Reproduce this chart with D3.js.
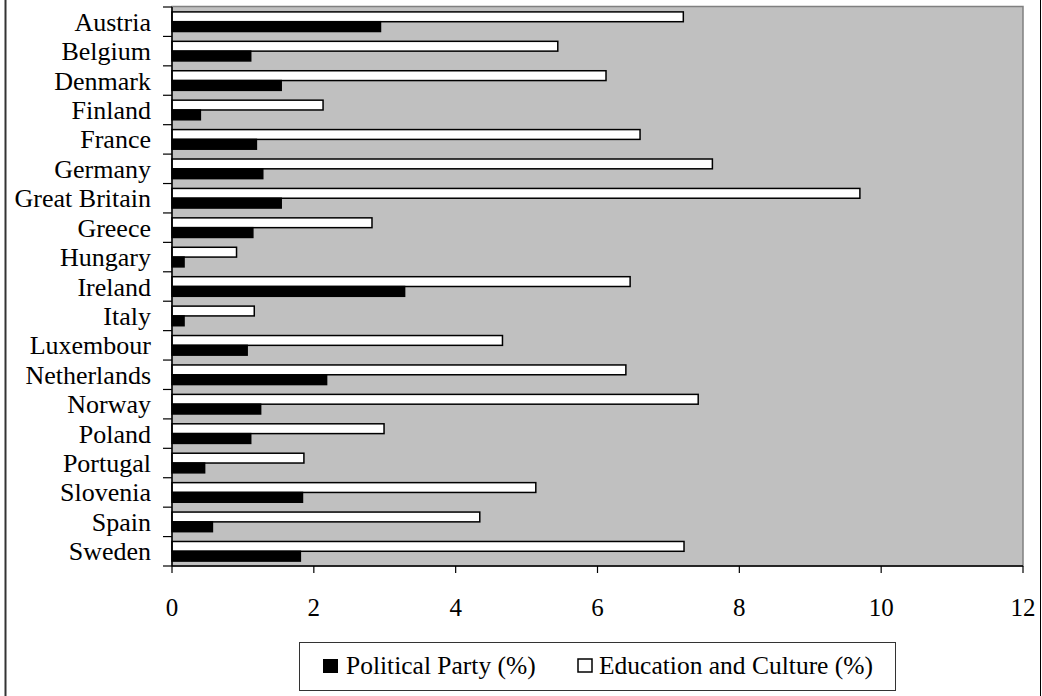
<!DOCTYPE html>
<html>
<head>
<meta charset="utf-8">
<script src="https://cdn.jsdelivr.net/npm/d3@7"></script>
<style>
  html, body { margin: 0; padding: 0; background: #fff; }
  svg { display: block; }
</style>
</head>
<body>
<svg id="chart" width="1042" height="696" style="font-family: 'Liberation Serif', 'DejaVu Serif', serif;"></svg>
<script>
const categories = ["Austria","Belgium","Denmark","Finland","France","Germany","Great Britain","Greece","Hungary","Ireland","Italy","Luxembour","Netherlands","Norway","Poland","Portugal","Slovenia","Spain","Sweden"];
const politicalParty = [2.94,1.11,1.54,0.40,1.19,1.28,1.54,1.14,0.17,3.28,0.17,1.06,2.18,1.25,1.11,0.46,1.84,0.57,1.81];
const educationCulture = [7.21,5.44,6.12,2.13,6.60,7.62,9.70,2.82,0.91,6.46,1.16,4.66,6.40,7.42,2.99,1.86,5.13,4.34,7.22];
const xTicks = [0,2,4,6,8,10,12];
const seriesNames = ["Education and Culture (%)", "Political Party (%)"];
const legendNames = ["Political Party (%)", "Education and Culture (%)"];

const FONT = "'Liberation Serif', 'DejaVu Serif', serif";
const svg = d3.select("#chart");
const pLeft = 172, pRight = 1023, pTop = 7, pBottom = 566;

const x = d3.scaleLinear().domain([0, 12]).range([pLeft, pRight]);
const y = d3.scaleBand().domain(categories).range([pTop, pBottom]).padding(0);
const bw = y.bandwidth();
const ySub = d3.scaleBand().domain(seriesNames).range([bw / 6, bw * 5 / 6]).padding(0);

// outer frame lines
svg.append("line").attr("x1", 5.5).attr("x2", 5.5).attr("y1", 0).attr("y2", 696)
  .attr("stroke", "#333").attr("stroke-width", 2);
svg.append("line").attr("x1", 1040.5).attr("x2", 1040.5).attr("y1", 0).attr("y2", 696)
  .attr("stroke", "#000").attr("stroke-width", 1);

// plot area
svg.append("rect").attr("x", pLeft).attr("y", pTop - 0.5).attr("width", pRight - pLeft).attr("height", pBottom - pTop + 0.5)
  .attr("fill", "#c0c0c0").attr("stroke", "#808080").attr("stroke-width", 1.5);

// bars
const rows = categories.map((c, i) => ({c, edu: educationCulture[i], pol: politicalParty[i]}));
const g = svg.append("g");
rows.forEach(r => {
  g.append("rect")
    .attr("x", x(0)).attr("y", y(r.c) + ySub(seriesNames[0]))
    .attr("width", x(r.edu) - x(0)).attr("height", ySub.bandwidth())
    .attr("fill", "#fff").attr("stroke", "#000").attr("stroke-width", 1.5);
  g.append("rect")
    .attr("x", x(0)).attr("y", y(r.c) + ySub(seriesNames[1]))
    .attr("width", x(r.pol) - x(0)).attr("height", ySub.bandwidth())
    .attr("fill", "#000").attr("stroke", "#000").attr("stroke-width", 1.5);
});

// y axis
svg.append("line").attr("x1", pLeft).attr("x2", pLeft).attr("y1", pTop).attr("y2", pBottom)
  .attr("stroke", "#000").attr("stroke-width", 1.5);
const boundaries = categories.map(c => y(c)).concat([pBottom]);
svg.selectAll(".ytick").data(boundaries).enter().append("line")
  .attr("x1", pLeft - 9).attr("x2", pLeft).attr("y1", d => d).attr("y2", d => d)
  .attr("stroke", "#000").attr("stroke-width", 1.2);
svg.selectAll(".ylab").data(categories).enter().append("text")
  .attr("x", 151).attr("y", d => y(d) + bw / 2 + 9)
  .attr("text-anchor", "end").attr("font-size", 26).attr("font-family", FONT).attr("fill", "#000")
  .text(d => d);

// x axis
svg.append("line").attr("x1", pLeft).attr("x2", pRight).attr("y1", pBottom).attr("y2", pBottom)
  .attr("stroke", "#000").attr("stroke-width", 1.5);
svg.selectAll(".xtick").data(xTicks).enter().append("line")
  .attr("x1", d => x(d)).attr("x2", d => x(d)).attr("y1", pBottom).attr("y2", pBottom + 7)
  .attr("stroke", "#000").attr("stroke-width", 1.2);
svg.selectAll(".xlab").data(xTicks).enter().append("text")
  .attr("x", d => x(d)).attr("y", 616)
  .attr("text-anchor", "middle").attr("font-size", 25).attr("font-family", FONT).attr("fill", "#000")
  .text(d => d);

// legend
svg.append("rect").attr("x", 299.5).attr("y", 642.5).attr("width", 596).attr("height", 48)
  .attr("fill", "#fff").attr("stroke", "#333").attr("stroke-width", 1);
svg.append("rect").attr("x", 323).attr("y", 659).attr("width", 15).attr("height", 14)
  .attr("fill", "#000");
svg.append("text").attr("x", 346).attr("y", 673.5).attr("font-size", 25.5).attr("font-family", FONT).attr("fill", "#000").text(legendNames[0]);
svg.append("rect").attr("x", 578).attr("y", 659).attr("width", 14).attr("height", 13)
  .attr("fill", "#fff").attr("stroke", "#000").attr("stroke-width", 1.5);
svg.append("text").attr("x", 599).attr("y", 673.5).attr("font-size", 25.5).attr("font-family", FONT).attr("fill", "#000").text(legendNames[1]);
</script>
</body>
</html>
